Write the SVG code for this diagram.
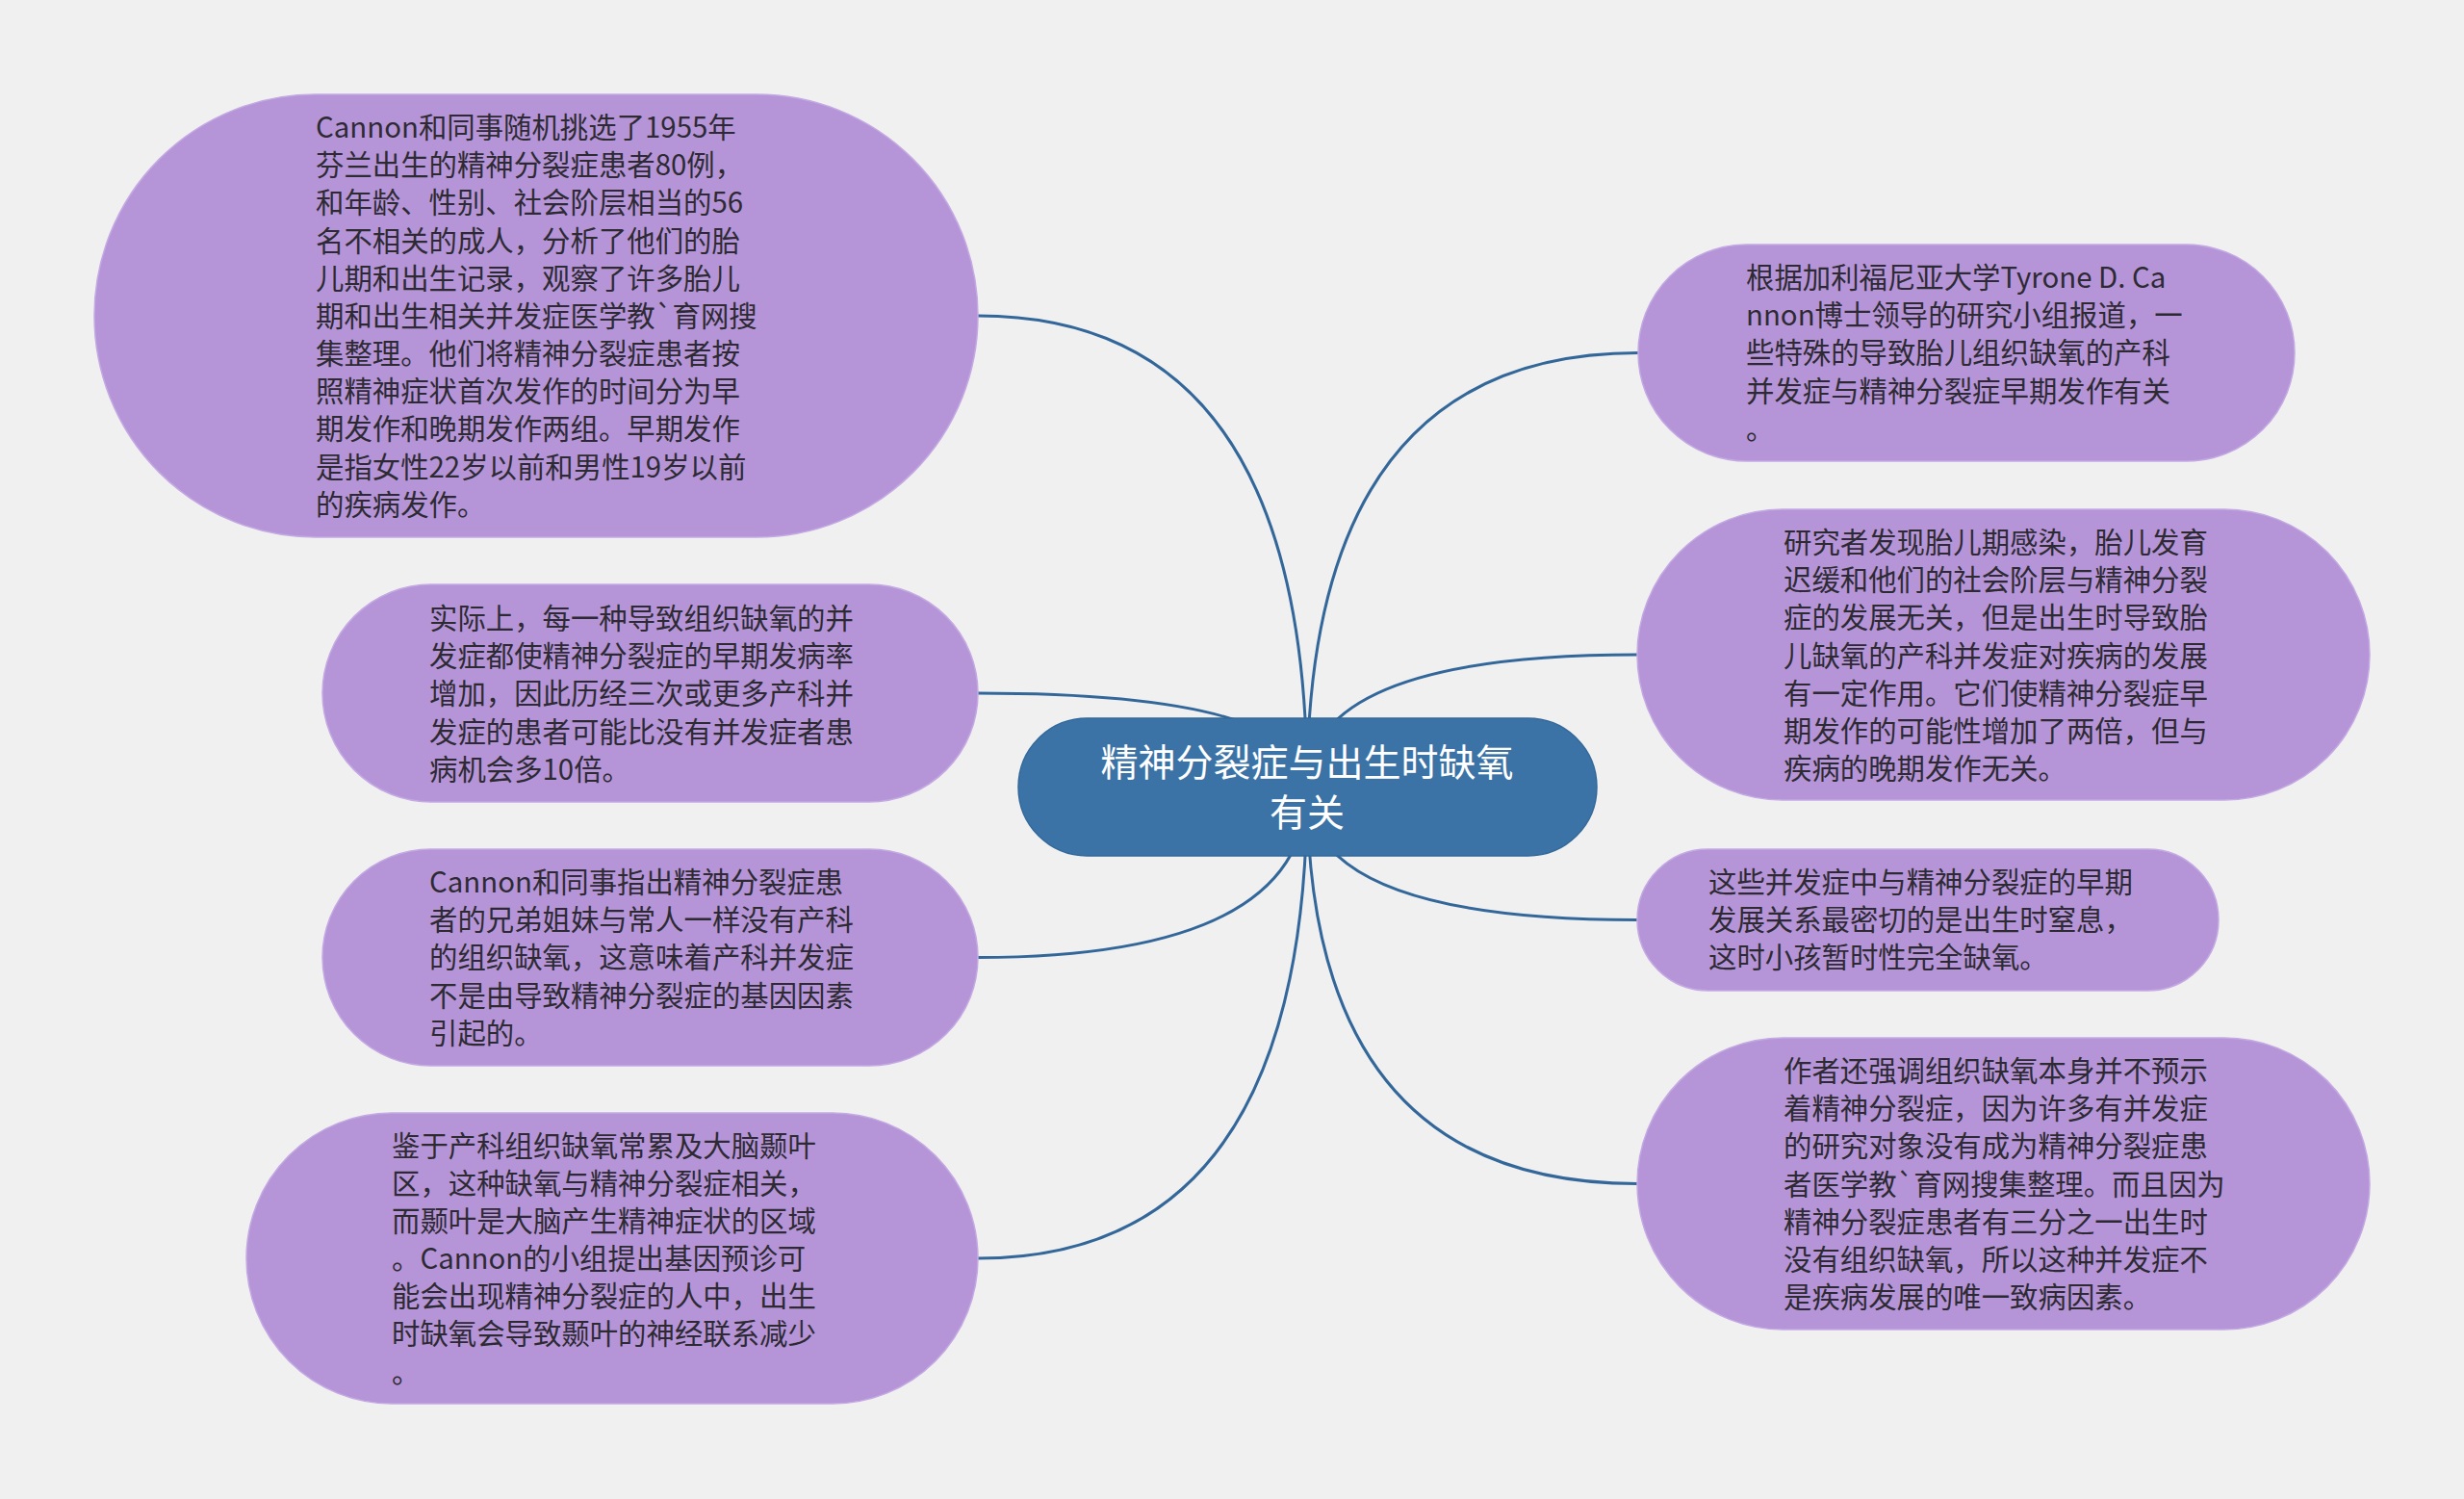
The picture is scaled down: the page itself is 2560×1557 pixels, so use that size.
<svg xmlns="http://www.w3.org/2000/svg" width="2560" height="1557" viewBox="0 0 2560 1557">
<style>
.bg{fill:#f0f0f0}
.sub{fill:#b595d8;stroke:#c4a9e3;stroke-width:1.5}
.root{fill:#3c73a6;stroke:#33689a;stroke-width:1.5}
.link{fill:none;stroke:#33679a;stroke-width:3}
.t{font-family:"Noto Sans CJK SC","Microsoft YaHei",sans-serif;font-size:29.4px;fill:#2e2a33}
.rt{font-family:"Noto Sans CJK SC","Microsoft YaHei",sans-serif;font-size:39px;fill:#ffffff;text-anchor:middle}
</style>
<rect class="bg" x="0" y="0" width="2560" height="1557"/>
<g id="connectors">
<path class="link" d="M1358 818 Q1358 328 1016 328"/>
<path class="link" d="M1358 818 Q1358 720 1016 720"/>
<path class="link" d="M1358 818 Q1358 994.5 1016 994.5"/>
<path class="link" d="M1358 818 Q1358 1307 1016 1307"/>
<path class="link" d="M1358 818 Q1358 366.5 1702 366.5"/>
<path class="link" d="M1358 818 Q1358 680 1701 680"/>
<path class="link" d="M1358 818 Q1358 955.5 1701 955.5"/>
<path class="link" d="M1358 818 Q1358 1229.5 1701 1229.5"/>
</g>
<g id="root">
<rect class="root" x="1058" y="746" width="601" height="143" rx="71.5" ry="71.5"/>
<text class="rt" x="1358" y="806">精神分裂症与出生时缺氧</text>
<text class="rt" x="1358" y="858">有关</text>
</g>
<g id="nodeA">
<rect class="sub" x="98" y="98" width="918" height="460" rx="230" ry="230"/>
<text class="t" x="328" y="143">Cannon和同事随机挑选了1955年</text>
<text class="t" x="328" y="182.2">芬兰出生的精神分裂症患者80例，</text>
<text class="t" x="328" y="221.4">和年龄、性别、社会阶层相当的56</text>
<text class="t" x="328" y="260.5">名不相关的成人，分析了他们的胎</text>
<text class="t" x="328" y="299.7">儿期和出生记录，观察了许多胎儿</text>
<text class="t" x="328" y="338.9">期和出生相关并发症医学教`育网搜</text>
<text class="t" x="328" y="378.1">集整理。他们将精神分裂症患者按</text>
<text class="t" x="328" y="417.3">照精神症状首次发作的时间分为早</text>
<text class="t" x="328" y="456.4">期发作和晚期发作两组。早期发作</text>
<text class="t" x="328" y="495.6">是指女性22岁以前和男性19岁以前</text>
<text class="t" x="328" y="534.8">的疾病发作。</text>
</g>
<g id="nodeB">
<rect class="sub" x="335" y="607" width="681" height="226" rx="113" ry="113"/>
<text class="t" x="446" y="653">实际上，每一种导致组织缺氧的并</text>
<text class="t" x="446" y="692.2">发症都使精神分裂症的早期发病率</text>
<text class="t" x="446" y="731.4">增加，因此历经三次或更多产科并</text>
<text class="t" x="446" y="770.5">发症的患者可能比没有并发症者患</text>
<text class="t" x="446" y="809.7">病机会多10倍。</text>
</g>
<g id="nodeC">
<rect class="sub" x="335" y="882" width="681" height="225" rx="112.5" ry="112.5"/>
<text class="t" x="446" y="927">Cannon和同事指出精神分裂症患</text>
<text class="t" x="446" y="966.2">者的兄弟姐妹与常人一样没有产科</text>
<text class="t" x="446" y="1005.4">的组织缺氧，这意味着产科并发症</text>
<text class="t" x="446" y="1044.5">不是由导致精神分裂症的基因因素</text>
<text class="t" x="446" y="1083.7">引起的。</text>
</g>
<g id="nodeD">
<rect class="sub" x="256" y="1156" width="760" height="302" rx="151" ry="151"/>
<text class="t" x="407" y="1200.5">鉴于产科组织缺氧常累及大脑颞叶</text>
<text class="t" x="407" y="1239.7">区，这种缺氧与精神分裂症相关，</text>
<text class="t" x="407" y="1278.9">而颞叶是大脑产生精神症状的区域</text>
<text class="t" x="407" y="1318">。Cannon的小组提出基因预诊可</text>
<text class="t" x="407" y="1357.2">能会出现精神分裂症的人中，出生</text>
<text class="t" x="407" y="1396.4">时缺氧会导致颞叶的神经联系减少</text>
<text class="t" x="407" y="1435.6">。</text>
</g>
<g id="nodeE">
<rect class="sub" x="1702" y="254" width="682" height="225" rx="112.5" ry="112.5"/>
<text class="t" x="1814" y="299">根据加利福尼亚大学Tyrone D. Ca</text>
<text class="t" x="1814" y="338.2">nnon博士领导的研究小组报道，一</text>
<text class="t" x="1814" y="377.4">些特殊的导致胎儿组织缺氧的产科</text>
<text class="t" x="1814" y="416.5">并发症与精神分裂症早期发作有关</text>
<text class="t" x="1814" y="455.7">。</text>
</g>
<g id="nodeF">
<rect class="sub" x="1701" y="529" width="761" height="302" rx="151" ry="151"/>
<text class="t" x="1853" y="574">研究者发现胎儿期感染，胎儿发育</text>
<text class="t" x="1853" y="613.2">迟缓和他们的社会阶层与精神分裂</text>
<text class="t" x="1853" y="652.4">症的发展无关，但是出生时导致胎</text>
<text class="t" x="1853" y="691.5">儿缺氧的产科并发症对疾病的发展</text>
<text class="t" x="1853" y="730.7">有一定作用。它们使精神分裂症早</text>
<text class="t" x="1853" y="769.9">期发作的可能性增加了两倍，但与</text>
<text class="t" x="1853" y="809.1">疾病的晚期发作无关。</text>
</g>
<g id="nodeG">
<rect class="sub" x="1701" y="882" width="604" height="147" rx="73.5" ry="73.5"/>
<text class="t" x="1775" y="927">这些并发症中与精神分裂症的早期</text>
<text class="t" x="1775" y="966.2">发展关系最密切的是出生时窒息，</text>
<text class="t" x="1775" y="1005.4">这时小孩暂时性完全缺氧。</text>
</g>
<g id="nodeH">
<rect class="sub" x="1701" y="1078" width="761" height="303" rx="151.5" ry="151.5"/>
<text class="t" x="1853" y="1123">作者还强调组织缺氧本身并不预示</text>
<text class="t" x="1853" y="1162.2">着精神分裂症，因为许多有并发症</text>
<text class="t" x="1853" y="1201.4">的研究对象没有成为精神分裂症患</text>
<text class="t" x="1853" y="1240.5">者医学教`育网搜集整理。而且因为</text>
<text class="t" x="1853" y="1279.7">精神分裂症患者有三分之一出生时</text>
<text class="t" x="1853" y="1318.9">没有组织缺氧，所以这种并发症不</text>
<text class="t" x="1853" y="1358.1">是疾病发展的唯一致病因素。</text>
</g>
</svg>
